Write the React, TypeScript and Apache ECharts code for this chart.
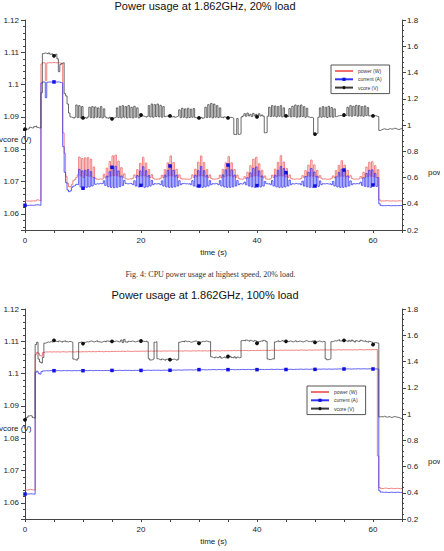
import React, { useEffect, useRef } from "react";
import * as echarts from "echarts";

// Sampling interval of the logger, seconds
const STEP = 0.25;

// ---- 1.862 GHz, 20% load ----
// power in mW
const P20_MW = [
  421, 421, 421, 420, 421, 422, 421, 423, 430, 426, 421,
  1465, 1475, 1474, 1340, 1473, 1475, 1474, 1475, 1476, 1475, 1474, 1475, 1474, 1470, 1468,
  940, 785, 610, 556, 530, 532, 548, 576, 585, 600,
  620, 756, 612, 745, 600, 750, 615, 752, 610, 740, 605, 680, 595,
  588, 586, 590, 587, 589,
  625, 598, 672, 605, 722, 612, 765, 615, 771, 612, 725, 605, 675, 598, 628,
  590, 587, 588, 591, 588,
  595, 620, 600, 660, 606, 708, 612, 754, 612, 710, 606, 662, 600, 622, 594,
  588, 586, 589, 587,
  594, 618, 600, 660, 606, 712, 612, 764, 612, 714, 606, 662, 600, 620, 594,
  588, 590, 587, 588, 586, 589,
  594, 620, 600, 664, 606, 716, 612, 764, 612, 714, 606, 662, 600, 620, 594,
  588, 587, 590, 588,
  594, 618, 600, 662, 606, 712, 612, 759, 612, 712, 606, 660, 600, 618, 594,
  588, 586, 589,
  606, 592, 640, 600, 690, 606, 740, 612, 754, 612, 705, 606, 655, 598, 612,
  588, 587, 589,
  594, 618, 600, 664, 606, 716, 612, 766, 612, 718, 606, 668, 600, 620, 594,
  588, 586, 589, 590, 587, 588,
  594, 614, 600, 652, 606, 694, 610, 733, 610, 696, 606, 654, 600, 614, 594,
  588, 590, 587, 586, 589, 588,
  594, 612, 600, 652, 606, 692, 610, 728, 610, 694, 606, 654, 600, 614, 594,
  588, 587, 589, 588, 590,
  608, 594, 640, 600, 680, 606, 716, 610, 720, 606, 690, 600, 660,
  430,
  421, 422, 421, 423, 424, 422, 421, 421, 422, 421, 420, 421, 423, 422, 421, 421,
];

// current in mA
const I20_MA = [
  388, 387, 388, 389, 388, 388, 390, 391, 393, 390, 388,
  1320, 1328, 1327, 1208, 1326, 1328, 1327, 1328, 1329, 1328, 1327, 1328, 1327, 1324, 1320,
  835, 640, 560, 505, 492, 498, 525, 535, 540, 548,
  545, 662, 528, 650, 518, 655, 525, 660, 528, 645, 535, 600, 548,
  553, 550, 555, 552, 554,
  575, 540, 610, 530, 645, 525, 678, 522, 685, 525, 650, 530, 612, 540, 578,
  555, 551, 553, 556, 552,
  545, 575, 535, 615, 528, 650, 540, 682, 525, 652, 528, 615, 535, 578, 545,
  553, 550, 554, 552,
  545, 575, 535, 618, 528, 655, 525, 688, 525, 655, 528, 618, 535, 576, 545,
  553, 555, 551, 553, 550, 554,
  545, 576, 535, 618, 528, 652, 535, 684, 525, 652, 528, 616, 535, 576, 545,
  553, 551, 554, 552,
  545, 576, 535, 620, 528, 658, 525, 695, 525, 658, 528, 618, 535, 576, 545,
  553, 550, 554,
  565, 545, 598, 535, 635, 528, 670, 525, 680, 538, 650, 528, 612, 535, 570,
  553, 551, 554,
  545, 576, 535, 618, 528, 655, 525, 685, 525, 668, 528, 637, 535, 580, 545,
  553, 550, 555, 552, 551, 554,
  545, 572, 535, 608, 528, 640, 525, 668, 525, 642, 535, 610, 532, 574, 545,
  553, 551, 554, 552, 550, 553,
  545, 570, 535, 605, 528, 638, 525, 662, 525, 657, 528, 612, 535, 574, 545,
  553, 551, 554, 552, 553,
  565, 540, 598, 532, 630, 528, 655, 525, 658, 543, 632, 532, 600,
  400,
  386, 385, 386, 385, 387, 386, 385, 385, 386, 385, 386, 385, 386, 387, 386, 386,
];

// core voltage in units of 0.1 mV
const V20_DMV = [
  10862, 10862, 10864, 10868, 10866, 10866, 10870, 10872, 10868, 10866, 10866,
  10975,
  11096, 11098, 11097, 11095, 11098, 11094, 11096, 11092, 11089,
  11094, 11080, 11040, 11062, 11066, 11068, 10972, 10965, 10940, 10912, 10900, 10898, 10896, 10899,
  10937, 10898, 10935, 10897, 10932,
  10897,
  10899, 10896, 10900,
  10930, 10898, 10932, 10897, 10931, 10899, 10928, 10898, 10932, 10897, 10925, 10900,
  10897, 10895, 10899, 10896, 10894, 10897, 10899,
  10928, 10898, 10933, 10897, 10935, 10899, 10932, 10897, 10935, 10898, 10930, 10897, 10933, 10899, 10928, 10897,
  10900, 10906, 10903, 10901, 10899, 10902,
  10935, 10900, 10940, 10899, 10938, 10901, 10940, 10900, 10936, 10899, 10932, 10901,
  10903, 10901, 10904, 10903, 10900, 10902, 10899, 10901, 10903,
  10922, 10898, 10927, 10899, 10925, 10897, 10927, 10898, 10924, 10899, 10926, 10898,
  10896, 10898, 10897, 10899, 10896, 10898,
  10930, 10898, 10938, 10899, 10942, 10897, 10940, 10899, 10935, 10898, 10928,
  10899, 10897, 10900, 10898, 10896, 10897, 10899, 10898, 10896,
  10846, 10845, 10895, 10846, 10848, 10900,
  10903, 10910, 10902, 10912, 10903, 10908, 10901, 10911, 10903, 10908, 10900, 10910, 10903, 10906, 10902,
  10851, 10852, 10902,
  10930, 10901, 10935, 10902, 10934, 10900, 10932, 10902, 10935, 10900, 10928,
  10902, 10903, 10901,
  10926, 10900, 10933, 10901, 10937, 10899, 10935, 10900, 10937, 10901, 10932, 10899, 10927,
  10900, 10898, 10899, 10897,
  10848, 10847, 10849, 10899,
  10928, 10899, 10932, 10900, 10930, 10898, 10933, 10900, 10929, 10899, 10925,
  10901, 10903, 10904, 10905, 10903, 10904, 10906, 10904,
  10930, 10903, 10935, 10902, 10933, 10904, 10936, 10902, 10935, 10903, 10932, 10902, 10934, 10904, 10929, 10903,
  10904, 10902, 10903, 10904, 10902, 10901,
  10858,
  10860, 10862, 10863, 10862, 10861, 10862, 10864, 10862, 10863, 10865, 10864, 10862, 10861, 10863, 10864, 10862,
];

// ---- 1.862 GHz, 100% load ----
const P100_MW = [
  421, 421, 423, 426, 423, 421, 421,
  1455, 1470, 1462, 1445, 1440, 1468, 1472,
  1473, 1472, 1474, 1473, 1472, 1474, 1473,
  1473, 1474, 1472, 1473, 1475, 1474, 1473, 1472, 1474, 1475, 1473, 1474, 1472, 1473, 1475, 1474, 1473, 1474, 1475, 1474,
  1475, 1474, 1476, 1475, 1474, 1476, 1475, 1474, 1476, 1477, 1475, 1476, 1474, 1475, 1477, 1476, 1475, 1476, 1477, 1476,
  1477, 1476, 1478, 1477, 1476, 1478, 1477, 1476, 1478, 1479, 1477, 1478, 1476, 1477, 1479, 1478, 1477, 1478, 1479, 1478,
  1479, 1478, 1480, 1479, 1478, 1480, 1479, 1478, 1480, 1481, 1479, 1480, 1478, 1479, 1481, 1480, 1479, 1480, 1481, 1480,
  1480, 1479, 1481, 1480, 1479, 1481, 1480, 1479, 1481, 1482, 1480, 1481, 1479, 1480, 1482, 1481, 1480, 1481, 1482, 1481,
  1481, 1480, 1482, 1481, 1480, 1482, 1481, 1480, 1482, 1483, 1481, 1482, 1480, 1481, 1483, 1482, 1481, 1482, 1483, 1482,
  1483, 1482, 1484, 1483, 1482, 1484, 1483, 1482, 1484, 1485, 1483, 1484, 1482, 1483, 1485, 1484, 1483, 1484, 1485, 1484,
  1485, 1484, 1486, 1485, 1484, 1486, 1485, 1484, 1486, 1487, 1485, 1486, 1484, 1485, 1487, 1486, 1485, 1486, 1487, 1486,
  1486, 1485, 1487, 1486, 1485, 1487, 1486, 1485, 1487, 1488, 1486, 1487, 1485, 1486, 1488, 1487, 1486, 1487, 1488, 1487,
  1488, 1487, 1489, 1488, 1487, 1489, 1488, 1487, 1489, 1490, 1488, 1489, 1487, 1488, 1490, 1489, 1488, 1489, 1490, 1489,
  1489, 1488, 1490, 1489, 1488, 1490, 1489, 1488, 1490, 1491, 1489, 1490, 1488, 1489, 1491, 1490, 1489, 1490, 1491, 1490,
  1491, 1490, 680, 440,
  433, 432, 434, 436, 433, 432, 433, 435, 432, 431, 433, 434, 432, 431, 433, 432,
];

const I100_MA = [
  390, 390, 391, 393, 391, 390, 390,
  1318, 1326, 1310, 1304, 1322, 1328, 1329,
  1330, 1329, 1330, 1331, 1330, 1329, 1330,
  1330, 1331, 1330, 1329, 1330, 1331, 1330, 1330, 1331, 1330, 1329, 1330, 1331, 1330, 1330, 1331, 1330, 1329, 1330, 1330,
  1331, 1330, 1331, 1332, 1331, 1330, 1331, 1332, 1331, 1331, 1332, 1331, 1330, 1331, 1332, 1331, 1331, 1332, 1331, 1332,
  1332, 1331, 1332, 1333, 1332, 1331, 1332, 1333, 1332, 1332, 1333, 1332, 1331, 1332, 1333, 1332, 1332, 1333, 1332, 1332,
  1333, 1332, 1333, 1334, 1333, 1332, 1333, 1334, 1333, 1333, 1334, 1333, 1332, 1333, 1334, 1333, 1333, 1334, 1333, 1333,
  1334, 1335, 1334, 1335, 1336, 1335, 1334, 1335, 1336, 1336, 1335, 1336, 1337, 1336, 1335, 1336, 1337, 1337, 1336, 1338,
  1337, 1338, 1337, 1336, 1337, 1338, 1337, 1338, 1339, 1338, 1337, 1338, 1339, 1338, 1337, 1338, 1339, 1338, 1337, 1338,
  1338, 1339, 1338, 1337, 1338, 1339, 1338, 1339, 1340, 1339, 1338, 1339, 1340, 1339, 1338, 1339, 1340, 1339, 1338, 1338,
  1339, 1340, 1339, 1338, 1339, 1340, 1339, 1340, 1341, 1340, 1339, 1340, 1341, 1340, 1339, 1340, 1341, 1340, 1339, 1339,
  1340, 1341, 1340, 1339, 1340, 1341, 1340, 1341, 1342, 1341, 1340, 1341, 1342, 1341, 1340, 1341, 1342, 1341, 1340, 1340,
  1341, 1342, 1341, 1342, 1343, 1342, 1341, 1342, 1343, 1342, 1341, 1342, 1343, 1342, 1343, 1344, 1343, 1342, 1343, 1343,
  1343, 1344, 1343, 1342, 1343, 1344, 1343, 1344, 1345, 1344, 1343, 1344, 1345, 1344, 1343, 1344, 1345, 1344, 1343, 1343,
  1344, 1343, 1342, 415,
  405, 404, 403, 404, 403, 402, 403, 404, 403, 402, 403, 404, 403, 402, 403, 404,
];

const V100_DMV = [
  10857, 10864, 10869, 10870, 10869, 10864, 10862,
  11090, 11097,
  11045, 11036, 11033, 11050, 11094,
  11096, 11098, 11097, 11099, 11098, 11100, 11103,
  11100, 11098, 11101, 11099, 11097, 11100, 11102, 11099, 11098, 11100, 11099, 11097,
  11045, 11043, 11041, 11046, 11096,
  11098, 11096, 11093,
  11097, 11099, 11098, 11100, 11101, 11099, 11098, 11100, 11102, 11099, 11098, 11097, 11099, 11100, 11098, 11101, 11100, 11099, 11098, 11100,
  11099, 11101, 11100, 11098, 11099, 11104, 11096, 11106, 11098, 11097, 11100, 11099, 11101, 11100, 11098, 11099, 11101, 11100, 11099, 11101,
  11100, 11099, 11101, 11098,
  11046, 11042, 11043, 11045, 11097, 11099,
  11046,
  11044, 11042, 11045, 11043, 11041, 11044, 11046, 11043, 11043, 11044, 11045, 11043, 11041, 11044,
  11097,
  11099, 11100, 11098, 11101, 11099, 11100, 11098, 11097, 11099, 11100, 11101, 11099, 11097, 11094, 11098, 11100, 11099, 11101, 11100, 11098, 11099,
  11052,
  11050, 11048, 11051, 11049, 11050, 11053, 11048, 11050, 11052, 11049, 11051, 11053, 11054, 11050, 11049, 11052, 11048, 11051, 11049, 11050,
  11102,
  11103, 11101, 11104, 11102, 11100, 11103, 11101, 11099, 11102, 11100, 11094, 11099, 11101, 11100, 11103, 11102,
  11099, 11045, 11043, 11044, 11046, 11045, 11098,
  11100, 11102, 11099, 11101, 11103, 11100, 11101, 11100,
  11099, 11101, 11100, 11098, 11100, 11102, 11099, 11100, 11101, 11099, 11098, 11100, 11102, 11101, 11099, 11100, 11098, 11101, 11099, 11097,
  11099, 11101, 11100, 11098, 11100, 11099,
  11046, 11043, 11044, 11046, 11099,
  11100, 11102, 11101, 11103, 11105, 11101, 11102, 11104, 11103,
  11101, 11099, 11103, 11100, 11104, 11101, 11098, 11102, 11100, 11099, 11103, 11101, 11100, 11102, 11099, 11097, 11100, 11098, 11096, 11090,
  11096, 11095,
  11094, 10866,
  10867, 10866, 10868, 10866, 10865, 10867, 10866, 10864, 10866, 10867, 10866, 10865, 10864, 10862, 10860, 10858,
];

const X_MAX = 65;
const X_LABEL_EVERY = 20;
const MARKER_EVERY = 5;

const SERIES_NAMES = ["power (W)", "current (A)", "vcore (V)"];
const TITLES = ["Power usage at 1.862GHz, 20% load", "Power usage at 1.862GHz, 100% load"];
const CAPTION = "Fig. 4: CPU power usage at highest speed, 20% load.";
const LEFT_NAME = "vcore (V)";
const RIGHT_NAME = "power (W), current (A)";
const X_NAME = "time (s)";

const FONT = "'Liberation Sans', Arial, sans-serif";
const AXIS = "#444";
const RED = "#f07070";
const BLUE = "#3434f6";
const BLACK = "#3a3a3a";

const toPairs = (arr: number[], div: number) => arr.map((v, i) => [i * STEP, v / div]);

const isMarker = (t: number) => {
  const k = t / MARKER_EVERY;
  return Math.abs(k - Math.round(k)) < 1e-9 && t < X_MAX;
};

export default function App() {
  const ref = useRef<HTMLDivElement>(null);

  useEffect(() => {
    if (!ref.current) return;
    const chart = echarts.init(ref.current, undefined, { renderer: "svg" });

    const GRID_TOPS = [20, 309];
    const grids = GRID_TOPS.map((top) => ({ left: 25, top, width: 377, height: 210, containLabel: false }));

    const xAxes = [0, 1].map((g) => ({
      type: "value",
      gridIndex: g,
      min: 0,
      max: X_MAX,
      interval: MARKER_EVERY,
      axisLine: { show: true, onZero: false, lineStyle: { color: AXIS, width: 1 } },
      axisTick: { show: true, length: 3, lineStyle: { color: AXIS } },
      axisLabel: {
        fontSize: 8,
        fontFamily: FONT,
        color: "#222",
        margin: 6,
        formatter: (v: number) => (v % X_LABEL_EVERY === 0 ? String(v) : ""),
      },
      splitLine: { show: false },
    }));

    const yAxes: any[] = [];
    [0, 1].forEach((g) => {
      yAxes.push({
        type: "value",
        gridIndex: g,
        position: "left",
        min: 1.055,
        max: 1.12,
        splitNumber: 7,
        axisLine: { show: true, onZero: false, lineStyle: { color: AXIS, width: 1 } },
        axisTick: { show: true, length: 4, lineStyle: { color: AXIS } },
        minorTick: { show: true, splitNumber: 5, length: 2, lineStyle: { color: AXIS } },
        axisLabel: { fontSize: 8, fontFamily: FONT, color: "#222", margin: 6, showMinLabel: false },
        splitLine: { show: false },
      });
      yAxes.push({
        type: "value",
        gridIndex: g,
        position: "right",
        min: 0.2,
        max: 1.8,
        interval: 0.2,
        axisLine: { show: true, onZero: false, lineStyle: { color: AXIS, width: 1 } },
        axisTick: { show: true, length: 4, lineStyle: { color: AXIS } },
        minorTick: { show: true, splitNumber: 5, length: 2, lineStyle: { color: AXIS } },
        axisLabel: { fontSize: 8, fontFamily: FONT, color: "#222", margin: 5 },
        splitLine: { show: false },
      });
    });

    const datasets = [
      { p: P20_MW, i: I20_MA, v: V20_DMV },
      { p: P100_MW, i: I100_MA, v: V100_DMV },
    ];

    const series: any[] = [];
    datasets.forEach((d, g) => {
      series.push({
        name: SERIES_NAMES[0],
        type: "line",
        step: "end",
        xAxisIndex: g,
        yAxisIndex: g * 2 + 1,
        data: toPairs(d.p, 1000),
        symbol: "none",
        lineStyle: { color: RED, width: 0.9 },
        itemStyle: { color: RED },
        z: 2,
      });
      series.push({
        name: SERIES_NAMES[1],
        type: "line",
        step: "end",
        xAxisIndex: g,
        yAxisIndex: g * 2 + 1,
        data: toPairs(d.i, 1000),
        symbol: "rect",
        showSymbol: true,
        showAllSymbol: true,
        symbolSize: (val: number[]) => (isMarker(val[0]) ? 3.5 : 0),
        lineStyle: { color: BLUE, width: 0.8 },
        itemStyle: { color: "#1010e0" },
        z: 3,
      });
      series.push({
        name: SERIES_NAMES[2],
        type: "line",
        step: "end",
        xAxisIndex: g,
        yAxisIndex: g * 2,
        data: toPairs(d.v, 10000),
        symbol: "circle",
        showSymbol: true,
        showAllSymbol: true,
        symbolSize: (val: number[]) => (isMarker(val[0]) ? 3.8 : 0),
        lineStyle: { color: BLACK, width: 0.75 },
        itemStyle: { color: "#111" },
        z: 4,
      });
    });

    const legendBase = {
      orient: "vertical",
      selectedMode: false,
      itemWidth: 18,
      itemHeight: 4,
      itemGap: 2.3,
      padding: [3, 8, 3, 3],
      borderColor: "#555",
      borderWidth: 1,
      backgroundColor: "#fff",
      textStyle: { fontSize: 5, fontFamily: FONT, color: "#333", lineHeight: 6 },
      data: [
        { name: SERIES_NAMES[0], itemStyle: { opacity: 0 } },
        { name: SERIES_NAMES[1] },
        { name: SERIES_NAMES[2] },
      ],
    };

    const txt = (text: string, x: number, y: number, extra: any = {}) => ({
      type: "text",
      x,
      y,
      silent: true,
      style: {
        text,
        fontSize: 8,
        fontFamily: FONT,
        fill: "#222",
        textAlign: "left",
        textVerticalAlign: "middle",
        ...extra,
      },
    });

    const graphic: any[] = [];
    const OFFSET = 289;
    [0, 1].forEach((g) => {
      const dy = g * OFFSET;
      graphic.push(txt(TITLES[g], 205, 5.5 + dy, { fontSize: 11, textAlign: "center", fill: "#111" }));
      graphic.push(txt(LEFT_NAME, -1, 139 + dy));
      graphic.push(txt(RIGHT_NAME, 428, 172.5 + dy));
      graphic.push(txt(X_NAME, 213.5, 252.5 + dy, { textAlign: "center" }));
    });
    graphic.push(
      txt(CAPTION, 210.5, 274, {
        fontSize: 8,
        fontFamily: "'Liberation Serif', 'Times New Roman', serif",
        textAlign: "center",
        fill: "#333",
      })
    );

    chart.setOption({
      animation: false,
      grid: grids,
      xAxis: xAxes,
      yAxis: yAxes,
      series,
      legend: [
        { ...legendBase, left: 331, top: 65 },
        { ...legendBase, left: 307, top: 386 },
      ],
      graphic,
    });

    return () => chart.dispose();
  }, []);

  // The figure is cropped just short of its right-hand axis title
  return (
    <div
      ref={ref}
      style={{ position: "absolute", left: 0, top: 0, width: 440, height: 551, background: "#fff" }}
    />
  );
}
